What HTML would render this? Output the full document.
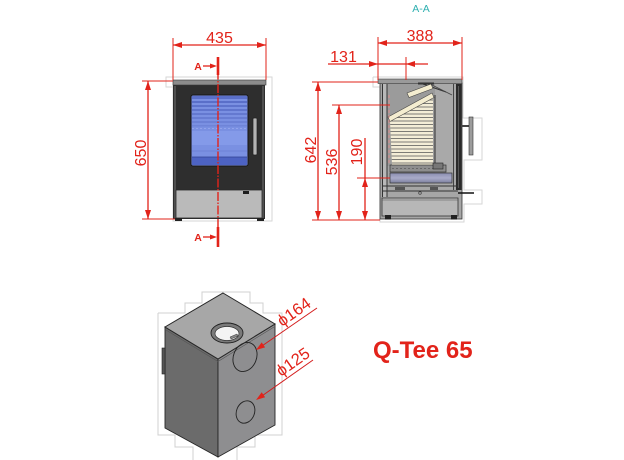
<!DOCTYPE html>
<html><head><meta charset="utf-8"><style>
html,body{margin:0;padding:0;background:#fff;}
svg{display:block;}
text{font-family:"Liberation Sans","DejaVu Sans",sans-serif;}
</style></head><body>
<svg width="624" height="460" viewBox="0 0 624 460" xmlns="http://www.w3.org/2000/svg">
<defs>
<clipPath id="fbclip"><polygon points="390,121 433,97 433,165 392,165"/></clipPath>
<linearGradient id="ash" x1="0" y1="0" x2="0" y2="1"><stop offset="0" stop-color="#8a8db0"/><stop offset="0.5" stop-color="#a9abc8"/><stop offset="1" stop-color="#7d809f"/></linearGradient>
</defs>
<rect width="624" height="460" fill="#fff"/>

<!-- ================= FRONT VIEW ================= -->
<rect x="173" y="77" width="99" height="144" fill="none" stroke="#d6d6d6" stroke-width="1"/>
<rect x="166" y="77" width="7" height="10" fill="none" stroke="#d6d6d6" stroke-width="1"/>
<rect x="173" y="84" width="92" height="135" fill="#2e2e2e"/>
<rect x="173" y="80" width="93" height="5" fill="#8c8c8c" stroke="#3a3a3a" stroke-width="0.6"/>
<line x1="175" y1="86" x2="175" y2="218" stroke="#5a5a5a" stroke-width="1.5"/>
<line x1="263" y1="86" x2="263" y2="218" stroke="#5a5a5a" stroke-width="1.5"/>
<!-- glass -->
<rect x="191" y="95" width="57" height="71" rx="2" fill="#7a90e2" stroke="#151515" stroke-width="1"/>
<g>
<rect x="192" y="96" width="55" height="3" fill="#5a6fc9"/>
<rect x="192" y="101" width="55" height="2" fill="#5a6fc9"/>
<rect x="192" y="105" width="55" height="2" fill="#5e73cc"/>
<rect x="192" y="109" width="55" height="2" fill="#6075cd"/>
<rect x="192" y="113" width="55" height="2" fill="#6479d0"/>
<rect x="192" y="117" width="55" height="2" fill="#687dd3"/>
<rect x="192" y="121" width="55" height="2" fill="#6c81d6"/>
<rect x="192" y="125" width="55" height="1.5" fill="#6f84d8"/>
<rect x="192" y="131" width="55" height="14" fill="#849ae9"/>
<line x1="192" y1="128.5" x2="247" y2="128.5" stroke="#9aaaf0" stroke-width="0.8" stroke-dasharray="2 2"/>
<rect x="192" y="150" width="55" height="2" fill="#7489dc"/>
<rect x="192" y="157" width="55" height="8" fill="#4d63c3"/>
<line x1="192" y1="157" x2="247" y2="157" stroke="#2f3f90" stroke-width="0.8"/>
</g>
<!-- handle -->
<rect x="253" y="118" width="4" height="37" rx="1" fill="#b4b4b4" stroke="#222" stroke-width="0.7"/>
<!-- drawer -->
<rect x="176" y="190" width="86" height="28" fill="#bababa" stroke="#2a2a2a" stroke-width="0.8"/>
<rect x="243" y="191" width="6" height="3" fill="#1e1e1e"/>
<rect x="175" y="218" width="7" height="3" fill="#222"/>
<rect x="257" y="218" width="7" height="3" fill="#222"/>

<!-- centerline A-A -->
<line x1="218" y1="57" x2="218" y2="246" stroke="#e2231a" stroke-width="1.4" stroke-dasharray="9 1.5 1.5 1.5"/>
<line x1="218" y1="57" x2="218" y2="75" stroke="#e2231a" stroke-width="2.6"/>
<line x1="218" y1="227" x2="218" y2="247" stroke="#e2231a" stroke-width="2.6"/>
<text x="198" y="70" font-size="10.5" font-weight="bold" fill="#e2231a" text-anchor="middle">A</text>
<line x1="203" y1="66" x2="212" y2="66" stroke="#e2231a" stroke-width="1.3"/>
<polygon points="217,66 210,63.5 210,68.5" fill="#e2231a"/>
<text x="198" y="241" font-size="10.5" font-weight="bold" fill="#e2231a" text-anchor="middle">A</text>
<line x1="203" y1="237" x2="212" y2="237" stroke="#e2231a" stroke-width="1.3"/>
<polygon points="217,237 210,234.5 210,239.5" fill="#e2231a"/>

<!-- 435 dim -->
<g stroke="#e2231a" stroke-width="1">
<line x1="173" y1="38" x2="173" y2="80"/>
<line x1="266" y1="38" x2="266" y2="80"/>
<line x1="173" y1="45" x2="266" y2="45" stroke-width="1.3"/>
<line x1="142" y1="81" x2="173" y2="81"/>
<line x1="142" y1="219" x2="175" y2="219"/>
<line x1="148" y1="81" x2="148" y2="219" stroke-width="1.3"/>
</g>
<g fill="#e2231a">
<polygon points="173,45 182,42 182,48"/>
<polygon points="266,45 257,42 257,48"/>
<polygon points="148,81 145,90 151,90"/>
<polygon points="148,219 145,210 151,210"/>
</g>
<text x="219.5" y="43" font-size="16" fill="#e2231a" text-anchor="middle">435</text>
<text transform="translate(146,153) rotate(-90)" font-size="16" fill="#e2231a" text-anchor="middle">650</text>

<!-- ================= SECTION A-A ================= -->
<text x="421" y="12" font-size="10.5" fill="#2fb0b0" text-anchor="middle">A-A</text>
<polyline points="373,77 463,77 463,118 482,118 482,160 464,160 464,190 482,190 482,204 464,204 464,222 380,222 380,87 373,87 373,77" fill="none" stroke="#d6d6d6" stroke-width="1"/>
<rect x="380" y="83" width="82" height="136" fill="#a6a6a6" stroke="#333" stroke-width="0.8"/>
<rect x="378" y="79" width="84" height="4.5" fill="#9a9a9a" stroke="#3a3a3a" stroke-width="0.6"/>
<!-- left wall -->
<rect x="382" y="84" width="5" height="113" fill="#b8b8b8"/>
<line x1="382.5" y1="84" x2="382.5" y2="197" stroke="#333" stroke-width="1"/>
<line x1="387" y1="84" x2="387" y2="197" stroke="#333" stroke-width="1"/>
<!-- chamber -->
<rect x="387.5" y="84" width="47.5" height="82" fill="#9b9b9b"/>
<rect x="435" y="84" width="19" height="105" fill="#a9a9a9"/>
<line x1="435" y1="95" x2="435" y2="168" stroke="#333" stroke-width="1"/>
<line x1="453.5" y1="84" x2="453.5" y2="190" stroke="#444" stroke-width="1"/>
<rect x="456" y="84" width="5.5" height="106" fill="#2a2a2a"/>
<line x1="458.5" y1="86" x2="458.5" y2="188" stroke="#777" stroke-width="0.6"/>
<line x1="420" y1="83" x2="446" y2="92" stroke="#333" stroke-width="1"/>
<line x1="430" y1="84" x2="452" y2="95" stroke="#444" stroke-width="0.8"/>
<rect x="418" y="82.5" width="16" height="2" fill="#333"/>
<!-- firebricks -->
<polygon points="390,121 433,97 433,165 392,165" fill="#f3edd6"/>
<g clip-path="url(#fbclip)" stroke="#555" stroke-width="0.8">
<line x1="388" y1="100" x2="434" y2="100"/><line x1="388" y1="103.5" x2="434" y2="103.5"/>
<line x1="388" y1="107" x2="434" y2="107"/><line x1="388" y1="110.5" x2="434" y2="110.5"/>
<line x1="388" y1="114" x2="434" y2="114"/><line x1="388" y1="117.5" x2="434" y2="117.5"/>
<line x1="388" y1="121" x2="434" y2="121"/><line x1="388" y1="124.5" x2="434" y2="124.5"/>
<line x1="388" y1="128" x2="434" y2="128"/><line x1="388" y1="131.5" x2="434" y2="131.5"/>
<line x1="388" y1="135" x2="434" y2="135"/><line x1="388" y1="138.5" x2="434" y2="138.5"/>
<line x1="388" y1="142" x2="434" y2="142"/><line x1="388" y1="145.5" x2="434" y2="145.5"/>
<line x1="388" y1="149" x2="434" y2="149"/><line x1="388" y1="152.5" x2="434" y2="152.5"/>
<line x1="388" y1="156" x2="434" y2="156"/><line x1="388" y1="159.5" x2="434" y2="159.5"/>
<line x1="388" y1="163" x2="434" y2="163"/>
</g>
<!-- baffles -->
<polygon points="388,117 432,93 434,97.5 390,121.5" fill="#f4edd0" stroke="#444" stroke-width="0.6"/>
<polygon points="407,93 431,84 433,88.5 409,97.5" fill="#f4edd0" stroke="#444" stroke-width="0.6"/>
<line x1="389" y1="95" x2="389" y2="165" stroke="#e88" stroke-width="0.8" stroke-dasharray="3 2"/>
<!-- grate -->
<rect x="390" y="165" width="56" height="7" fill="#8e8e8e" stroke="#333" stroke-width="0.7"/>
<line x1="392" y1="168.5" x2="444" y2="168.5" stroke="#444" stroke-width="0.6" stroke-dasharray="2 2"/>
<rect x="433" y="163" width="10" height="6" fill="#777" stroke="#222" stroke-width="0.6"/>
<!-- ash pan -->
<rect x="390" y="173" width="62" height="10" fill="url(#ash)" stroke="#333" stroke-width="0.7"/>
<!-- mechanism -->
<line x1="383" y1="186" x2="458" y2="186" stroke="#333" stroke-width="1"/>
<line x1="383" y1="191" x2="458" y2="191" stroke="#333" stroke-width="1"/>
<rect x="395" y="187" width="10" height="3" fill="#555"/>
<rect x="430" y="187" width="8" height="3" fill="#555"/>
<circle cx="420" cy="193" r="1.3" fill="none" stroke="#333" stroke-width="0.6"/>
<line x1="458" y1="193" x2="474" y2="193" stroke="#111" stroke-width="1.5"/>
<!-- drawer -->
<rect x="382" y="198" width="76" height="18" fill="#b7b7b7" stroke="#333" stroke-width="0.8"/>
<line x1="382" y1="200" x2="458" y2="200" stroke="#555" stroke-width="0.5"/>
<rect x="385" y="215" width="6" height="4.5" fill="#222"/>
<rect x="451" y="215" width="6" height="4.5" fill="#222"/>
<!-- handle -->
<line x1="461" y1="126" x2="470" y2="126" stroke="#444" stroke-width="2"/>
<rect x="469" y="117" width="4" height="38" fill="#9c9c9c" stroke="#333" stroke-width="0.6"/>

<!-- section dims -->
<g stroke="#e2231a" stroke-width="1">
<line x1="378" y1="37" x2="378" y2="80"/>
<line x1="462" y1="37" x2="462" y2="80"/>
<line x1="406" y1="57" x2="406" y2="80"/>
<line x1="378" y1="43" x2="462" y2="43" stroke-width="1.3"/>
<line x1="328" y1="64" x2="428" y2="64" stroke-width="1.3"/>
<line x1="312" y1="82" x2="378" y2="82"/>
<line x1="312" y1="220" x2="380" y2="220"/>
<line x1="332" y1="105" x2="390" y2="105"/>
<line x1="357" y1="178" x2="390" y2="178"/>
<line x1="318" y1="82" x2="318" y2="220" stroke-width="1.3"/>
<line x1="339" y1="105" x2="339" y2="220" stroke-width="1.3"/>
<line x1="365" y1="138" x2="365" y2="220" stroke-width="1.3"/>
</g>
<g fill="#e2231a">
<polygon points="378,43 387,40 387,46"/>
<polygon points="462,43 453,40 453,46"/>
<polygon points="378,64 369,61 369,67"/>
<polygon points="406,64 415,61 415,67"/>
<polygon points="318,82 315,91 321,91"/>
<polygon points="318,220 315,211 321,211"/>
<polygon points="339,105 336,114 342,114"/>
<polygon points="339,220 336,211 342,211"/>
<polygon points="365,178 362,187 368,187"/>
<polygon points="365,220 362,211 368,211"/>
</g>
<text x="420" y="41" font-size="16" fill="#e2231a" text-anchor="middle">388</text>
<text x="343.5" y="62" font-size="16" fill="#e2231a" text-anchor="middle">131</text>
<text transform="translate(316,150) rotate(-90)" font-size="16" fill="#e2231a" text-anchor="middle">642</text>
<text transform="translate(337,162) rotate(-90)" font-size="16" fill="#e2231a" text-anchor="middle">536</text>
<text transform="translate(362,152) rotate(-90)" font-size="16" fill="#e2231a" text-anchor="middle">190</text>

<!-- ================= ISOMETRIC ================= -->
<polyline points="158,313 185,313 185,303 202,303 202,292 250,292 250,303 263,303 263,313 282,313 282,435 255,435 255,447 237,447 237,461 193,461 193,447 175,447 175,435 158,435 158,313" fill="none" stroke="#d0d0d0" stroke-width="1"/>
<polygon points="165,327 218,359 218,457 165,428" fill="#6b6b6b" stroke="#262626" stroke-width="0.9"/>
<polygon points="218,359 275,324 275,425 218,457" fill="#8e8e90" stroke="#262626" stroke-width="0.9"/>
<polygon points="223,293 275,324 218,359 165,327" fill="#a7a7a7" stroke="#262626" stroke-width="1"/>
<polyline points="166,330 218,361.5 274,327" fill="none" stroke="#555" stroke-width="0.6"/>
<rect x="162" y="348" width="3" height="26" fill="#555" stroke="#222" stroke-width="0.6"/>
<!-- flue -->
<ellipse cx="227" cy="333" rx="16" ry="10" fill="#7a7a7a" stroke="#222" stroke-width="0.9"/>
<ellipse cx="227" cy="333.5" rx="12" ry="7" fill="#f4f4f4" stroke="#333" stroke-width="0.7"/>
<path d="M230,337 L237,334 L238,336 L231,339 Z" fill="#888" stroke="#333" stroke-width="0.5"/>
<!-- holes -->
<ellipse cx="245" cy="357" rx="11.5" ry="15" transform="rotate(22 245 357)" fill="none" stroke="#222" stroke-width="0.9"/>
<ellipse cx="245.5" cy="412" rx="9" ry="11.5" transform="rotate(22 245.5 412)" fill="none" stroke="#222" stroke-width="0.9"/>
<!-- leaders -->
<line x1="259" y1="348" x2="317" y2="308" stroke="#d41c1c" stroke-width="1"/>
<polygon points="256,350 265.1,347.4 261.7,342.4" fill="#e2231a"/>
<line x1="259" y1="398" x2="313" y2="360" stroke="#d41c1c" stroke-width="1"/>
<polygon points="256,400 265.1,397.3 261.7,392.3" fill="#e2231a"/>
<text transform="translate(282,327) rotate(-35)" font-size="16.5" fill="#e2231a">ϕ164</text>
<text transform="translate(281,377) rotate(-35)" font-size="16.5" fill="#e2231a">ϕ125</text>

<!-- title -->
<text x="373" y="358" font-size="24" font-weight="bold" fill="#e2231a">Q-Tee 65</text>
</svg>
</body></html>
